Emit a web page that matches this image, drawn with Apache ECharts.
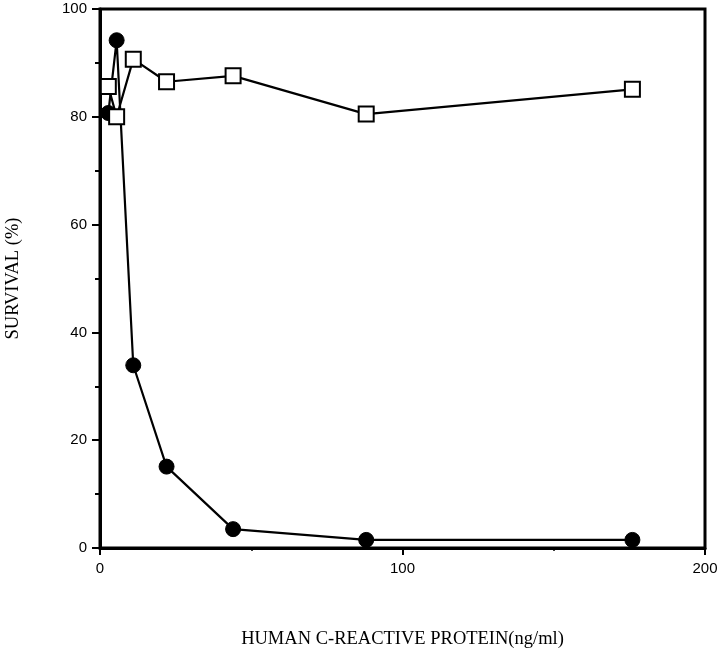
<!DOCTYPE html>
<html><head><meta charset="utf-8">
<script src="https://cdn.jsdelivr.net/npm/echarts@6/dist/echarts.min.js"></script>
<style>html,body{margin:0;padding:0;background:#fff}#c{width:720px;height:654px}</style>
</head><body><div id="c"></div>
<script>
// Data
const doses = [2.75, 5.5, 11, 22, 44, 88, 176];
const filledCircles = [80.7, 94.2, 33.9, 15.1, 3.5, 1.5, 1.5];
const openSquares = [85.6, 80.0, 90.7, 86.5, 87.6, 80.5, 85.1];
const xTicks = [0, 100, 200];
const yTicks = [0, 20, 40, 60, 80, 100];

const pair = (xs, ys) => xs.map((x, i) => [x, ys[i]]);

const chart = echarts.init(document.getElementById('c'));
const axisFontTick = {color: '#000', fontFamily: 'Liberation Sans', fontSize: 15};
chart.setOption({
  animation: false,
  backgroundColor: '#fff',
  grid: {left: 100, right: 15, top: 9, bottom: 106, containLabel: false, outerBoundsMode: 'none',
         show: true, borderColor: '#000', borderWidth: 3, backgroundColor: 'transparent'},
  xAxis: {
    type: 'value', min: xTicks[0], max: xTicks[xTicks.length - 1], interval: 100,
    name: 'HUMAN C-REACTIVE PROTEIN(ng/ml)', nameLocation: 'middle', nameGap: 82,
    nameTextStyle: {color: '#000', fontFamily: 'Liberation Serif', fontSize: 18.5},
    axisLine: {lineStyle: {color: '#000', width: 3}},
    axisTick: {show: true, inside: false, length: 7, lineStyle: {color: '#000', width: 2}},
    minorTick: {show: true, splitNumber: 2, length: 3, lineStyle: {color: '#000', width: 1.5}},
    axisLabel: Object.assign({margin: 13}, axisFontTick),
    splitLine: {show: false}
  },
  yAxis: {
    type: 'value', min: yTicks[0], max: yTicks[yTicks.length - 1], interval: 20,
    name: 'SURVIVAL (%)', nameLocation: 'middle', nameGap: 77,
    nameTextStyle: {color: '#000', fontFamily: 'Liberation Serif', fontSize: 18.5},
    axisLine: {lineStyle: {color: '#000', width: 3}},
    axisTick: {show: true, inside: false, length: 8, lineStyle: {color: '#000', width: 2}},
    minorTick: {show: true, splitNumber: 2, length: 5, lineStyle: {color: '#000', width: 2}},
    axisLabel: Object.assign({margin: 13}, axisFontTick),
    splitLine: {show: false}
  },
  series: [
    {
      type: 'line', data: pair(doses, filledCircles), symbol: 'circle', symbolSize: 15,
      lineStyle: {color: '#000', width: 2.2}, itemStyle: {color: '#000', borderColor: '#000'}, z: 2
    },
    {
      type: 'line', data: pair(doses, openSquares), symbol: 'rect', symbolSize: 15,
      lineStyle: {color: '#000', width: 2.2}, itemStyle: {color: '#fff', borderColor: '#000', borderWidth: 2}, z: 3
    }
  ]
});
</script></body></html>
